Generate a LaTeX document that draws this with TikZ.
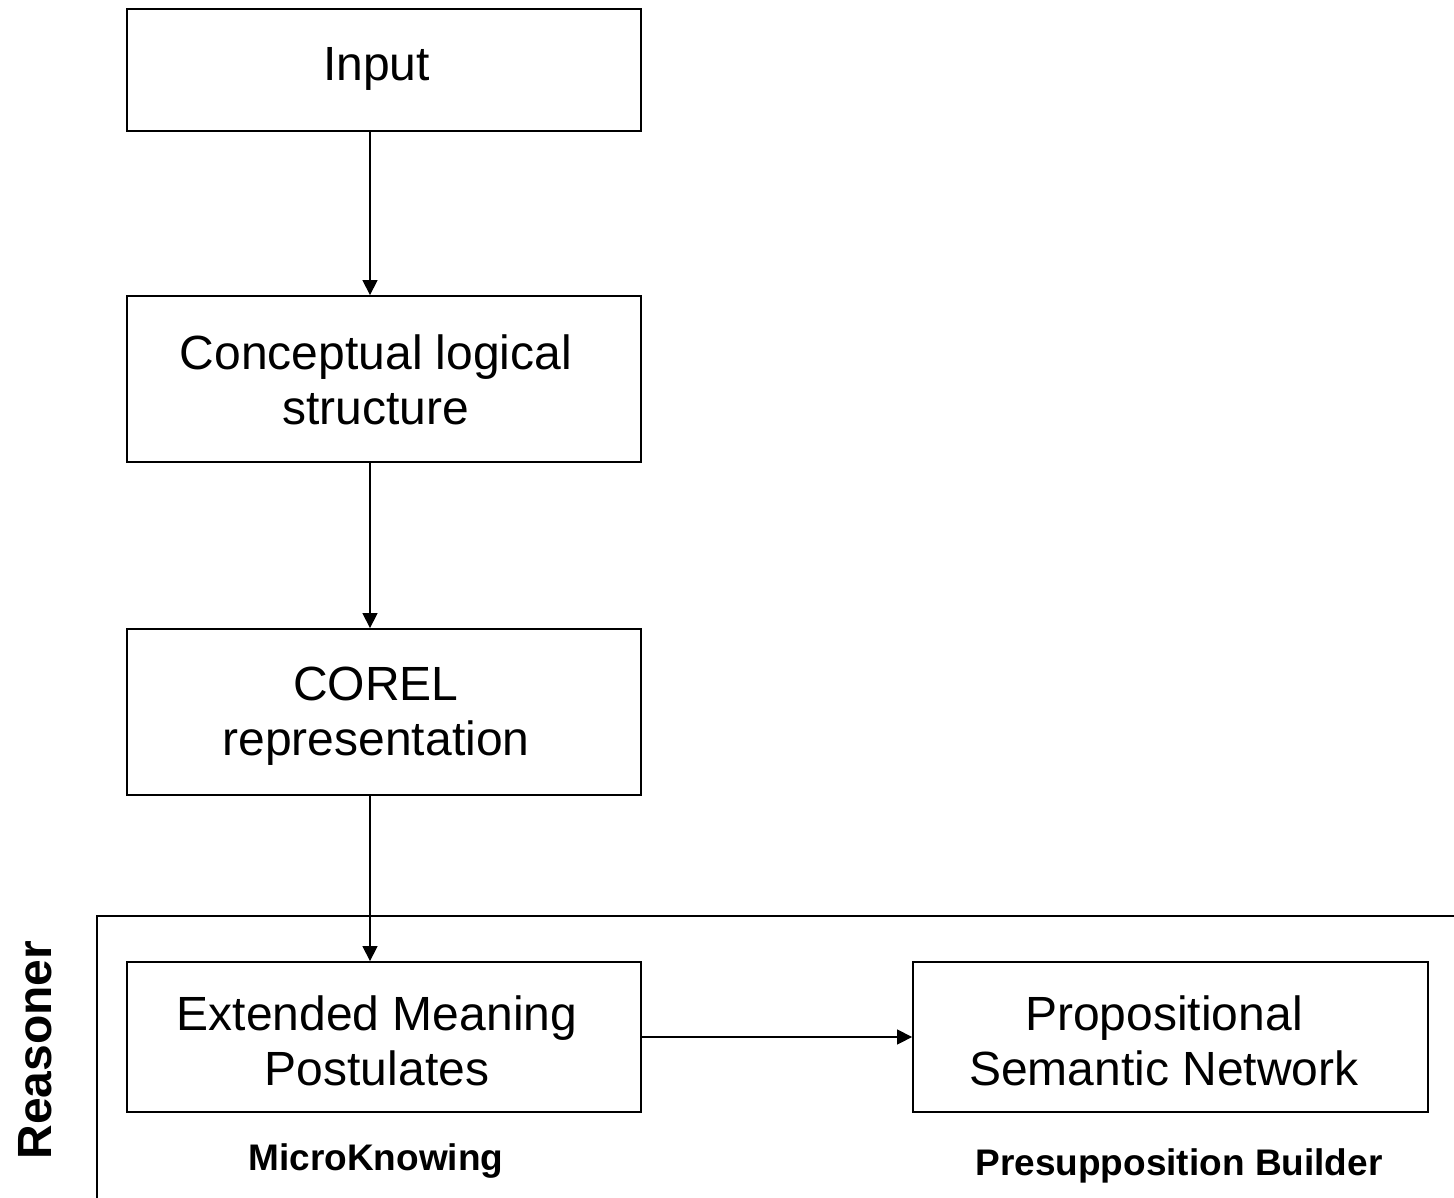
\documentclass[tikz,border=0pt]{standalone}
\usepackage{fontspec}
\setmainfont{Liberation Sans}
\usetikzlibrary{arrows.meta}
\begin{document}
\begin{tikzpicture}[x=1pt,y=-1pt,
  box/.style={draw,line width=1.8pt,rectangle,minimum width=514pt,inner sep=0pt},
  txt/.style={align=center,inner sep=0pt,font=\fontsize{48}{55.5}\selectfont},
  arr/.style={line width=1.3pt,-{Triangle[length=15pt,width=15pt]}},
  lab/.style={font=\fontsize{37}{40}\selectfont\bfseries,anchor=base},
  frame/.style={line width=1.8pt}]
\useasboundingbox (0,0) rectangle (1454,1198);
\node[box,minimum height=122pt] (inp) at (384,70) {};
\node[txt] (inpT) at (376.5,69) {Input};
\node[box,minimum height=166pt] (cls) at (384,379) {};
\node[txt] (clsT) at (376,380) {Conceptual logical\\structure};
\node[box,minimum height=166pt] (corel) at (384,712) {};
\node[txt] (corelT) at (376,716) {COREL\\representation};
\node[box,minimum height=150pt] (emp) at (384,1037) {};
\node[txt] (empT) at (377,1041) {Extended Meaning\\Postulates};
\node[box,minimum height=150pt,minimum width=515pt] (psn) at (1170.5,1037) {};
\node[txt] (psnT) at (1164,1041) {Propositional\\Semantic Network};
\coordinate (ax) at (370,0);
\draw[arr] (inp.south -| ax) -- (cls.north -| ax);
\draw[arr] (cls.south -| ax) -- (corel.north -| ax);
\draw[arr] (corel.south -| ax) -- (emp.north -| ax);
\draw[arr] (emp.east) -- (psn.west);
\coordinate (fr1) at (1454,916);
\coordinate (fr2) at (97,916);
\coordinate (fr3) at (97,1198);
\draw[frame] (fr1) -- (fr2) -- (fr3);
\node[rotate=90,font=\fontsize{48}{52}\selectfont\bfseries] (reas) at (35,1050) {Reasoner};
\node[lab] (mk) at (376,1170) {MicroKnowing};
\node[lab] (pb) at (1179,1175) {Presupposition Builder};
\end{tikzpicture}
\end{document}
